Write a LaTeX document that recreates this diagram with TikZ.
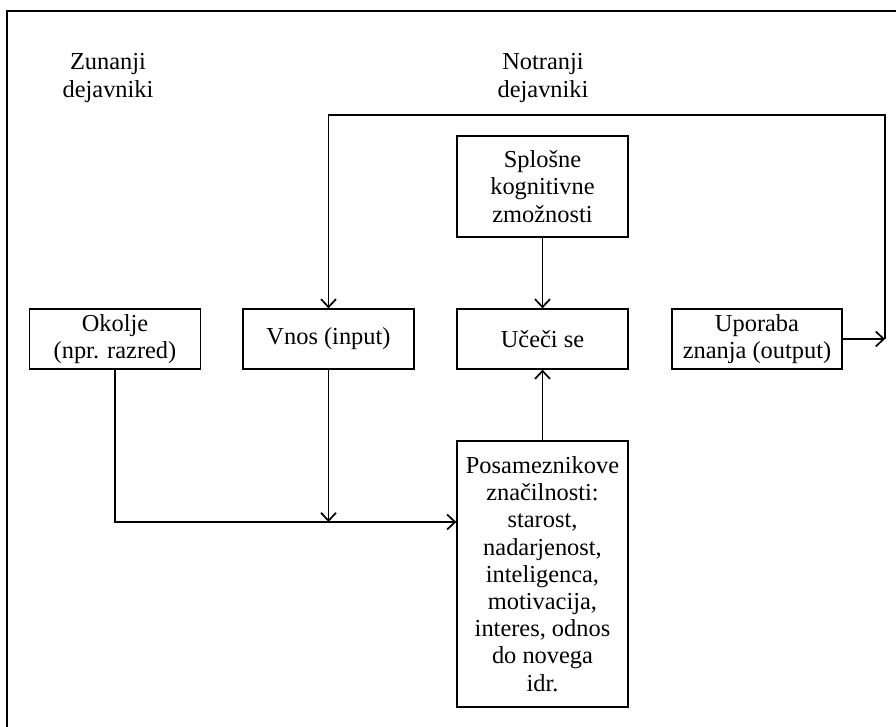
\documentclass[tikz,border=0pt]{standalone}
\usepackage{fontspec}
\setmainfont{Liberation Serif}
\usetikzlibrary{arrows.meta}

\begin{document}
\begin{tikzpicture}[x=0.5pt, y=-0.5pt,
    box/.style={draw, line width=0.65pt, minimum width=85.5pt, minimum height=30pt,
        inner sep=1pt, align=center, font=\fontsize{12.2}{13.6}\selectfont},
    heading/.style={align=center, inner sep=0pt, font=\fontsize{12.2}{13.6}\selectfont},
    arr/.style={-{Straight Barb[length=4pt,width=7.5pt,line width=0.85pt]}, line width=0.65pt}]
    \useasboundingbox (0,0) rectangle (896,727);

    % Okvir
    \draw[line width=0.85pt] (7,727) -- (7,11) -- (896,11);

    % Naslova
    \node[heading] (zunanji) at (108,78) {Zunanji\\dejavniki};
    \node[heading] (notranji) at (543,78) {Notranji\\dejavniki};

    % Okvirji
    \node[box] (okolje) at (115,339) {Okolje\\(npr. razred)};
    \node[box] (vnos) at (328.5,339) {Vnos (input)};
    \node[box] (uci) at (542.5,339) {Učeči se};
    \node[box, minimum width=85pt] (uporaba) at (757,339) {Uporaba\\znanja (output)};
    \node[box, minimum height=50.5pt] (splosne) at (542.5,186.5) {Splošne\\kognitivne\\zmožnosti};
    \node[box, minimum height=133pt] (posam) at (542.5,574)
        {Posameznikove\\značilnosti:\\starost,\\nadarjenost,\\inteligenca,\\motivacija,\\interes, odnos\\do novega\\idr.};

    % Tocke
    \coordinate (stik) at (328.5,522);
    \coordinate (desno) at (885,339);
    \coordinate (zgoraj) at (885,115);

    % Povezave
    \draw[arr] (okolje.south) |- (posam.west |- stik);
    \draw[arr] (vnos.south) -- (stik);
    \draw[arr] (posam.north) -- (uci.south);
    \draw[arr] (splosne.south) -- (uci.north);
    \draw[arr] (uporaba.east) -- (desno);
    \draw[arr] (desno) -- (zgoraj) -| (vnos.north);
\end{tikzpicture}
\end{document}
